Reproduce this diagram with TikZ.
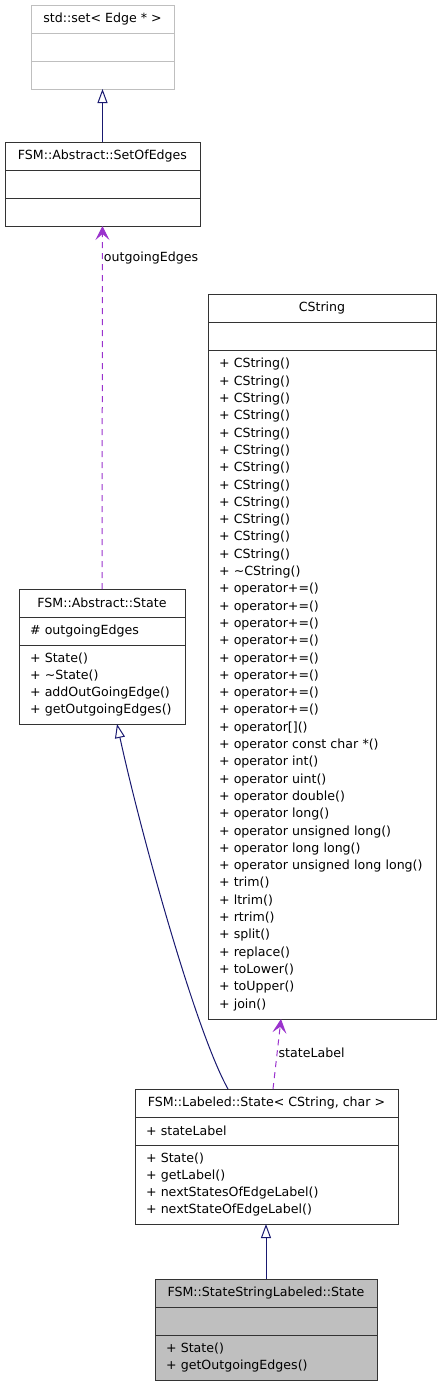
\documentclass[tikz,border=0pt]{standalone}
\usepackage{fontspec}
\setmainfont{DejaVu Sans}
\usetikzlibrary{arrows.meta,positioning}
\definecolor{edgenavy}{HTML}{191970}
\definecolor{usepurple}{HTML}{9A32CD}
\definecolor{boxline}{HTML}{333333}
\definecolor{extgray}{HTML}{BFBFBF}
\newcommand{\umlfont}{\fontsize{12.6}{17.3}\selectfont}
\tikzset{
  cls/.style={draw=boxline, fill=white, line width=1pt, outer sep=0pt, inner xsep=0pt, inner ysep=4pt, minimum height=28pt, font=\umlfont, align=center},
  clsl/.style={cls, inner xsep=11pt, align=left},
  clsx/.style={cls, draw=extgray},
  clsg/.style={cls, fill=extgray},
  clsgl/.style={clsl, fill=extgray},
  inh/.style={-{Triangle[open, length=14pt, width=10pt]}, line width=1pt, draw=edgenavy},
  usage/.style={-{Stealth[length=14pt, width=14pt, inset=6pt]}, line width=1pt, draw=usepurple, dash pattern=on 6pt off 5pt},
  rel/.style={font=\umlfont, anchor=west, inner sep=1pt},
}
\begin{document}
\begin{tikzpicture}[x=1pt, y=1pt]
  \useasboundingbox (0,0) rectangle (441,-1387);
  % std::set
  \node[clsx, minimum width=143pt, anchor=north] (set1) at (102.5,-5) {std::set< Edge * >};
  \node[clsx, minimum width=143pt, below=0pt of set1] (set2) {};
  \node[clsx, minimum width=143pt, below=0pt of set2] (set3) {};
  % SetOfEdges
  \node[cls, minimum width=195pt, anchor=north] (soe1) at (102.5,-142) {FSM::Abstract::SetOfEdges};
  \node[cls, minimum width=195pt, below=0pt of soe1] (soe2) {};
  \node[cls, minimum width=195pt, below=0pt of soe2] (soe3) {};
  % CString
  \node[cls, minimum width=228pt, anchor=north] (cstr1) at (322,-294) {CString};
  \node[cls, minimum width=228pt, below=0pt of cstr1] (cstr2) {};
  \node[clsl, text width=206pt, minimum height=669pt, below=0pt of cstr2] (cstr3) {%
    + CString()\\+ CString()\\+ CString()\\+ CString()\\+ CString()\\+ CString()\\
    + CString()\\+ CString()\\+ CString()\\+ CString()\\+ CString()\\+ CString()\\
    + \textasciitilde CString()\\
    + operator+=()\\+ operator+=()\\+ operator+=()\\+ operator+=()\\
    + operator+=()\\+ operator+=()\\+ operator+=()\\+ operator+=()\\
    + operator[]()\\
    + operator const char *()\\
    + operator int()\\
    + operator uint()\\
    + operator double()\\
    + operator long()\\
    + operator unsigned long()\\
    + operator long long()\\
    + operator unsigned long long()\\
    + trim()\\+ ltrim()\\+ rtrim()\\+ split()\\+ replace()\\
    + toLower()\\+ toUpper()\\+ join()};
  % Abstract::State
  \node[cls, minimum width=166pt, anchor=north] (abs1) at (102,-589) {FSM::Abstract::State};
  \node[clsl, text width=144pt, below=0pt of abs1] (abs2) {\# outgoingEdges};
  \node[clsl, text width=144pt, minimum height=79pt, below=0pt of abs2] (abs3) {%
    + State()\\+ \textasciitilde State()\\+ addOutGoingEdge()\\+ getOutgoingEdges()};
  % Labeled::State
  \node[cls, minimum width=263pt, anchor=north] (lab1) at (266.5,-1089) {FSM::Labeled::State< CString, char >};
  \node[clsl, text width=241pt, below=0pt of lab1] (lab2) {+ stateLabel};
  \node[clsl, text width=241pt, minimum height=79pt, below=0pt of lab2] (lab3) {%
    + State()\\+ getLabel()\\+ nextStatesOfEdgeLabel()\\+ nextStateOfEdgeLabel()};
  % StateStringLabeled::State
  \node[clsg, minimum width=222pt, anchor=north] (ssl1) at (266,-1279) {FSM::StateStringLabeled::State};
  \node[clsg, minimum width=222pt, below=0pt of ssl1] (ssl2) {};
  \node[clsgl, text width=200pt, minimum height=45pt, below=0pt of ssl2] (ssl3) {%
    + State()\\+ getOutgoingEdges()};
  % relations
  \draw[inh] (soe1.north) -- (set3.south);
  \draw[inh] (ssl1.north) -- (ssl1.north |- lab3.south);
  \draw[inh] ([xshift=93pt]lab1.north west) .. controls (195,-1030) and (140,-830) .. ([xshift=98pt]abs3.south west);
  \draw[usage] (abs1.north) -- node[rel, pos=0.912] {outgoingEdges} (soe3.south);
  \draw[usage] ([xshift=138pt]lab1.north west) -- node[rel, pos=0.514] {stateLabel} ([xshift=73pt]cstr3.south west);
\end{tikzpicture}
\end{document}
